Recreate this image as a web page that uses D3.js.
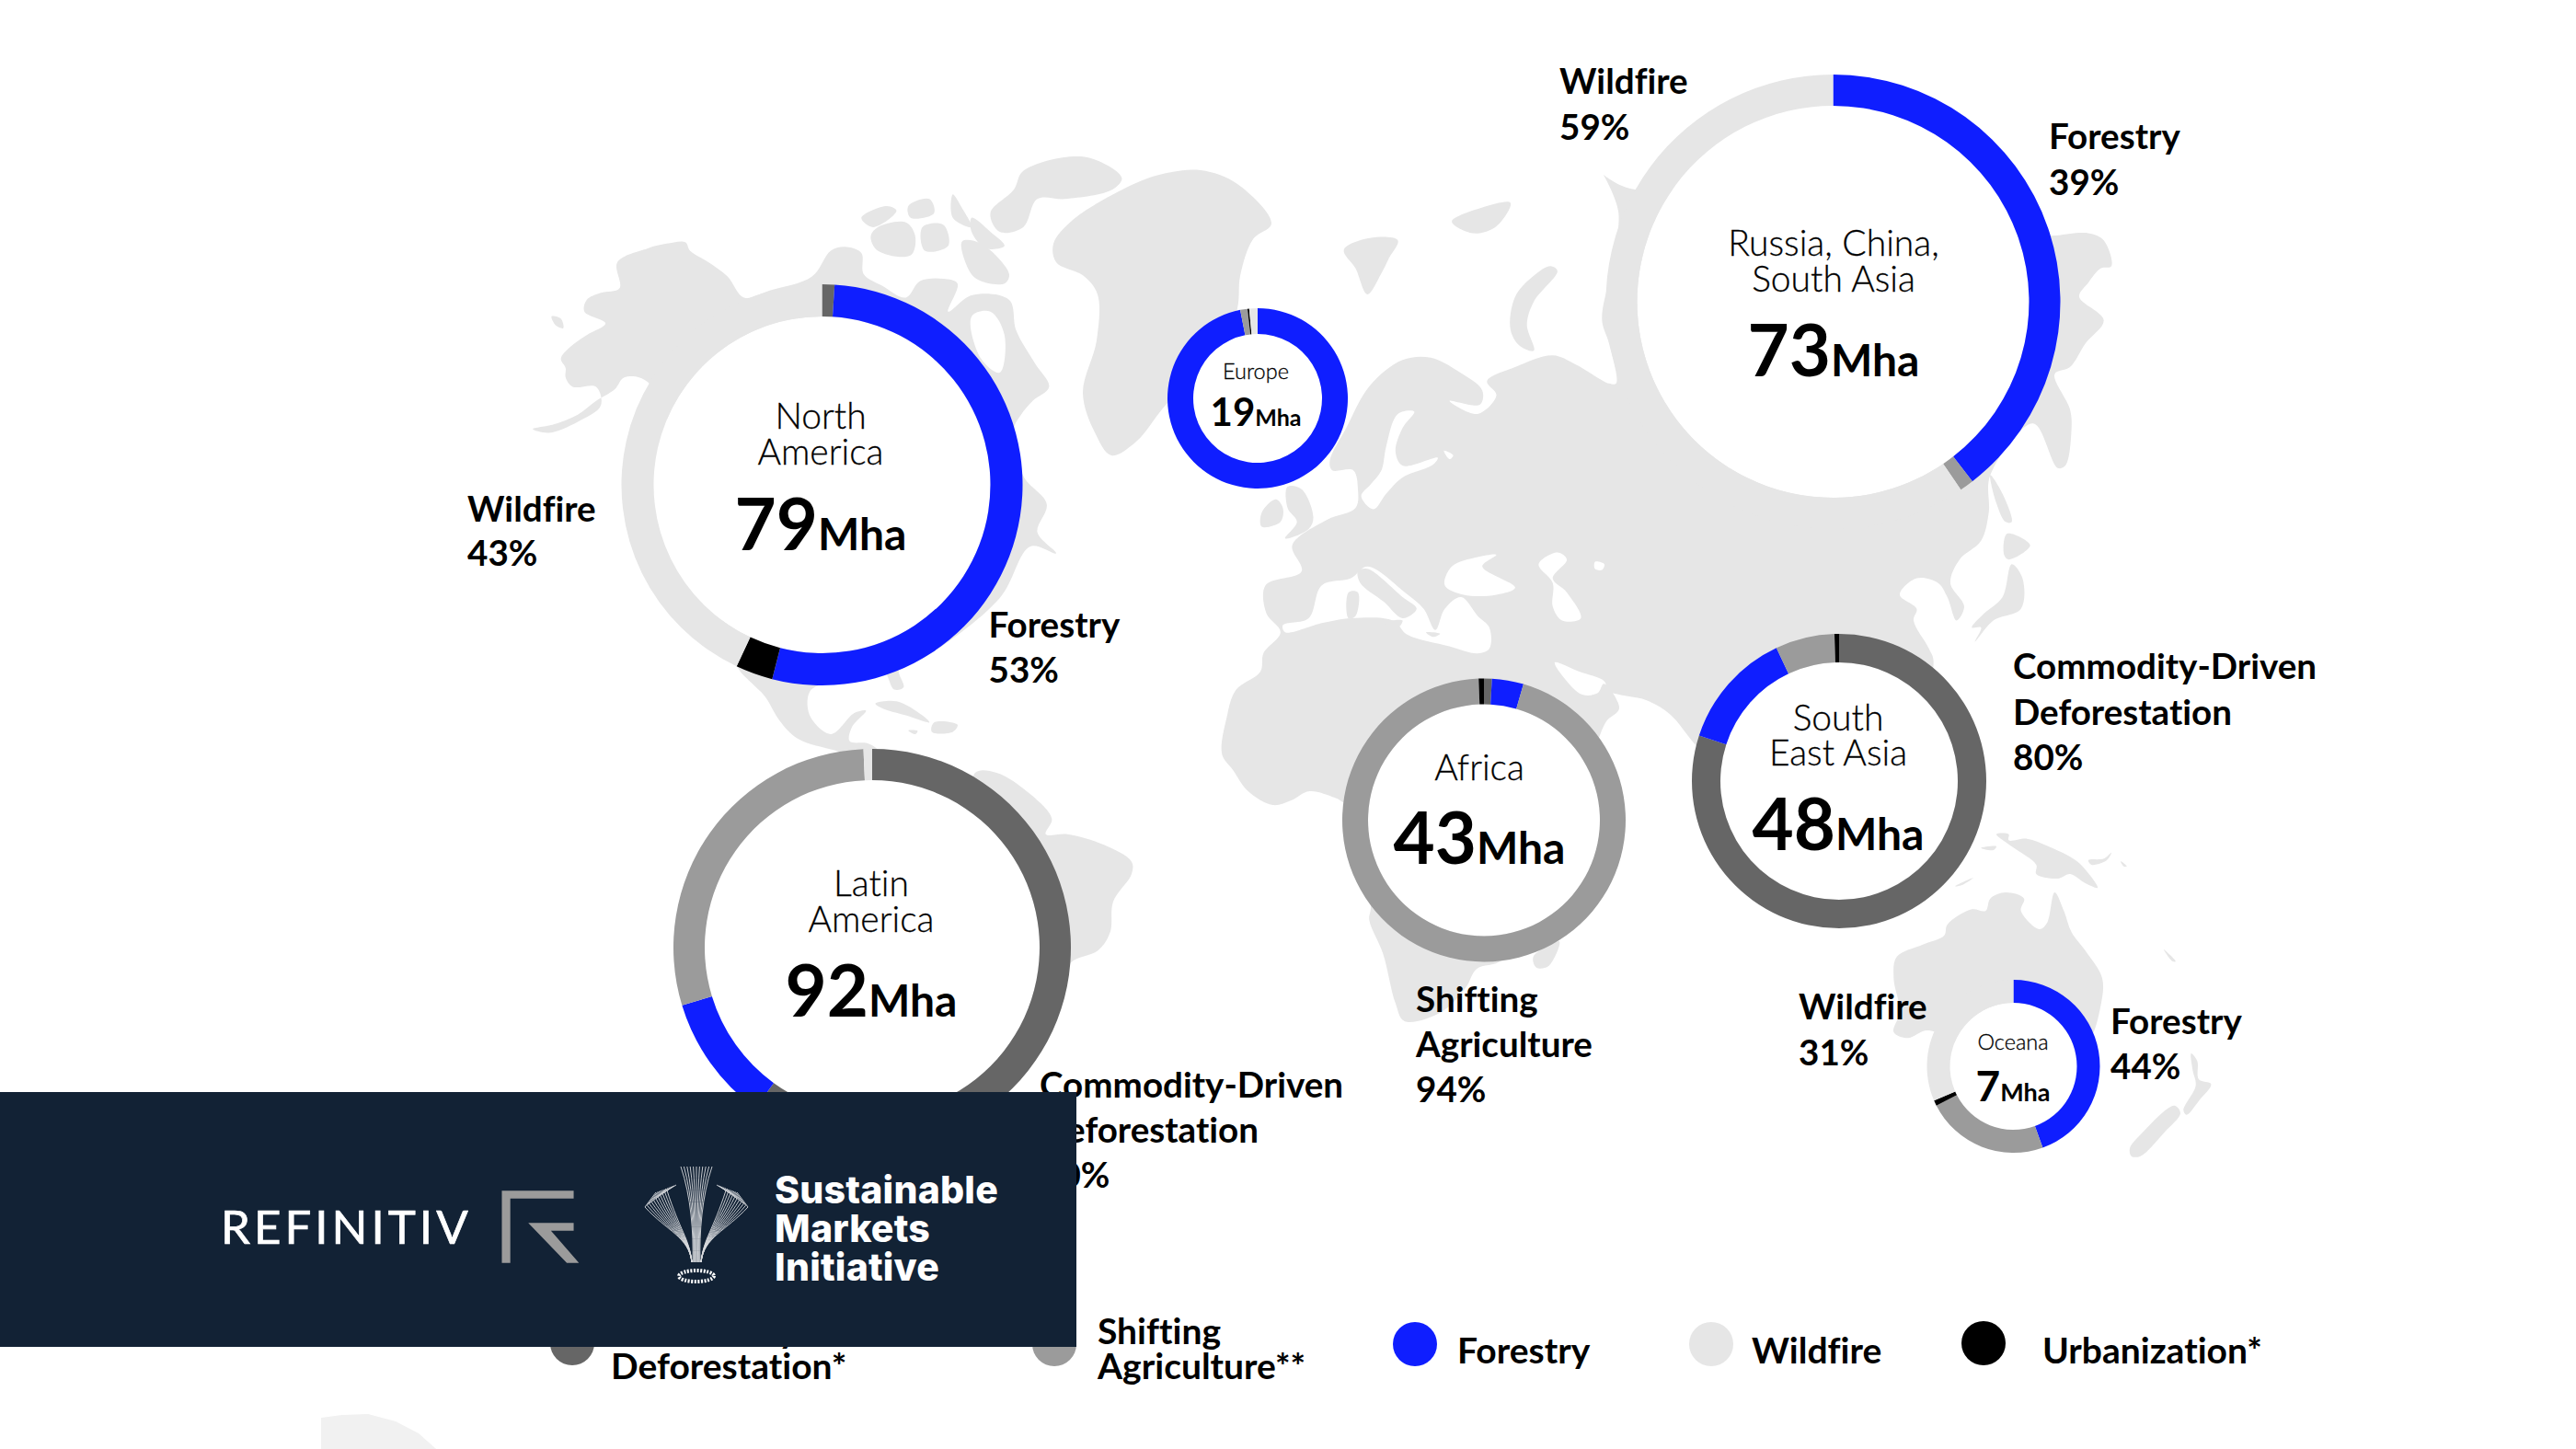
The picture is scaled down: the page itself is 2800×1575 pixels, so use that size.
<!DOCTYPE html>
<html><head><meta charset="utf-8">
<script src="https://cdn.jsdelivr.net/npm/d3@7/dist/d3.min.js"></script>
<style>html,body{margin:0;padding:0;background:#fff}svg{display:block}text{font-family:Lato,sans-serif;font-variant-ligatures:none}</style>
</head><body>
<svg id="c" width="2800" height="1575" viewBox="0 0 2800 1575"></svg>
<script>
// ---- data ----
const causes = ["Commodity-Driven Deforestation","Shifting Agriculture","Forestry","Wildfire","Urbanization"];
const regionNames = [["North","America"],["Europe"],["Russia, China,","South Asia"],["Latin","America"],["Africa"],["South","East Asia"],["Oceana"]];
const regionAreas = [79,19,73,92,43,48,7];
const sliceCauses = [[0,2,4,3],[2,1,4,3],[2,1,3],[0,2,1,3],[0,2,1,4],[0,2,1,4],[2,1,4,3]];
const sliceShares = [[1,53,3,43],[96.9,1.3,0.3,1.5],[39.5,1,59.5],[60,10.3,29,0.7],[0.9,3.6,94.9,0.6],[80,13,6.5,0.5],[44.5,23,1,31.5]];
const calloutLines = [["Wildfire","43%"],["Forestry","53%"],["Wildfire","59%"],["Forestry","39%"],["Commodity-Driven","Deforestation","60%"],["Shifting","Agriculture","94%"],["Commodity-Driven","Deforestation","80%"],["Wildfire","31%"],["Forestry","44%"]];
const legendLines = [["Commodity-Driven","Deforestation*"],["Shifting","Agriculture**"],["Forestry"],["Wildfire"],["Urbanization*"]];
const legendCauses = [0,1,2,3,4];
const brandLines = ["Sustainable","Markets","Initiative"];

// ---- styles and layout ----
const causeColor = d3.scaleOrdinal().domain([0,1,2,3,4]).range(["#666666","#9b9b9b","#0f1eff","#e6e6e6","#000000"]);
const ringLayout = [
 {cx:893.5,cy:527,R:218,r:183,tx:892,ty:[465.5,505],ny:598,fs:39,ns:78,ms:48},
 {cx:1367,cy:433,R:98,r:70,tx:1365,ty:[412],ny:463,fs:23.5,ns:42,ms:25},
 {cx:1992.5,cy:328,R:247,r:213,tx:1993,ty:[277.5,316.5],ny:409,fs:39,ns:78,ms:48},
 {cx:948,cy:1030,R:216,r:182,tx:947,ty:[973.5,1012.5],ny:1105,fs:39,ns:78,ms:48},
 {cx:1613,cy:891.5,R:154,r:126,tx:1608,ty:[847.5],ny:939,fs:39,ns:78,ms:48},
 {cx:1999,cy:849,R:160,r:129,tx:1998,ty:[793.5,832],ny:924,fs:39,ns:78,ms:48},
 {cx:2188.5,cy:1159,R:94,r:69,tx:2188,ty:[1141],ny:1197,fs:23.5,ns:46,ms:27}];
const calloutLayout = [[508,[567,615]],[1074.5,[693,742]],[1695,[102,152]],[2227,[162,212]],[1130,[1193,1242,1291]],[1539,[1100,1149,1198]],[2188,[738,788,837]],[1955,[1108,1158]],[2294,[1124,1173]]];
const legendLayout = [[622,1460,664,[1460,1499]],[1146,1461,1193,[1461,1499]],[1538,1461,1584,[1482]],[1860,1461,1904,[1482]],[2156,1460,2220,[1482]]];

// ---- backdrop outline helpers (each traces one crop of the map) ----
const fr=(ox,oy,sx,sy)=>pts=>pts.map(([x,y])=>[ox+x/sx,oy+y/sy]);
const z5=fr(500,150,1.96,1.96), z6=fr(800,700,3,3), z7=fr(1300,200,1.96,1.96), z8=fr(1950,200,3,1.96), z9=fr(1950,800,3,3), z11=fr(1300,700,3,3);

const land=[
 z5([[225,490],[215,470],[235,445],[270,420],[310,395],[265,370],[270,345],[300,330],[340,320],[335,265],[400,235],[440,225],[480,222],[490,240],[530,265],[570,295],[605,340],[660,325],[750,295],[790,240],[820,232],[855,245],[860,290],[900,315],[950,340],[980,305],[1030,300],[1060,310],[1040,370],[1090,335],[1170,345],[1185,410],[1225,480],[1255,530],[1220,560],[1195,590],[1180,620],[1200,720],[1250,780],[1230,840],[1270,885],[1215,870],[1150,980],[1000,1100],[935,1130],[945,1170],[925,1175],[900,1135],[780,1160],[745,1180],[745,1230],[790,1270],[840,1225],[865,1220],[835,1255],[830,1285],[870,1290],[890,1305],[860,1320],[800,1305],[720,1280],[680,1240],[650,1190],[620,1160],[590,1125],[500,800],[400,520],[350,510],[330,535],[290,560],[250,590],[200,610],[155,620],[190,628],[250,605],[300,570],[290,530],[240,530],[225,510]]),
 z5([[1200,70],[1330,40],[1410,85],[1390,110],[1290,130],[1230,130],[1200,190],[1150,200],[1130,160],[1180,110]]),
 z5([[1090,170],[1130,200],[1160,230],[1120,235],[1090,200]]),
 z5([[855,170],[910,145],[930,155],[880,190]]),
 z5([[890,190],[950,180],[970,210],[960,250],[890,240],[875,210]]),
 z5([[955,145],[1000,130],[1010,160],[960,170]]),
 z5([[1050,120],[1070,150],[1090,190],[1050,170]]),
 z5([[985,190],[1030,185],[1040,230],[990,240]]),
 z5([[1070,220],[1110,225],[1170,290],[1160,310],[1100,300],[1075,260]]),
 z5([[885,1205],[930,1200],[985,1230],[1000,1245],[950,1230],[900,1215]]),
 z5([[1010,1245],[1060,1250],[1050,1265],[1005,1265]]),
 z5([[955,1262],[975,1263],[970,1270]]),
 z5([[195,380],[215,385],[220,405],[205,400]]),
 [[1145,265],[1165,240],[1222,205],[1260,190],[1305,185],[1345,200],[1382,243],[1362,260],[1348,300],[1345,335],[1320,400],[1272,435],[1235,480],[1208,495],[1190,470],[1177,427],[1192,370],[1193,320],[1178,300],[1148,285]],
 z7([[315,140],[370,115],[430,120],[410,160],[395,190],[365,235],[340,180]]),
 z7([[545,80],[610,50],[670,40],[640,90],[590,105]]),
 z7([[755,175],[770,185],[720,250],[705,300],[720,355],[690,345],[670,310],[680,240],[720,195]]),
 [].concat(
  z7([[150,915],[148,855],[225,825],[205,770],[280,715],[340,690],[345,650],[335,610],[290,610],[285,590],[320,520],[370,430],[440,375],[500,370],[560,400],[610,440],[605,470],[540,462],[600,490],[640,450],[620,420],[680,390],[760,365],[810,385],[880,425],[895,425],[880,340],[865,290],[880,200],[900,60],[868,-20]]),
  [[1743,190],[1772,205],[1900,200],[2100,200],[2220,255]],
  z8([[840,110],[960,105],[1010,120],[1035,175],[1000,180],[960,210],[930,240],[1010,290],[950,340],[900,390],[850,405],[900,480],[905,520],[885,600],[860,605],[780,510],[640,620],[635,700],[610,760],[540,800],[510,850],[555,900],[530,930],[500,880],[470,850],[400,840],[345,875],[400,905],[390,930],[440,990],[455,1020],[300,1300]]),
  [[1880,850]],
  z7([[1060,1190],[1010,1130],[960,1100],[880,1080]]),
  z11([[1330,120],[1250,90],[1170,60],[1200,110],[1260,165],[1310,160],[1330,130],[1380,210],[1340,250],[1320,290],[1250,500],[1150,800],[1000,1030],[915,1060],[880,1120],[800,1200],[680,1230],[650,1170],[610,1010],[565,900],[570,860],[560,600],[470,510],[450,500],[370,480],[310,510],[250,525],[170,480],[120,410],[85,360],[100,240],[130,150],[210,90],[220,30]]),
  z7([[180,955]])),
 z6([[780,420],[850,420],[960,490],[1030,570],[1010,620],[1080,620],[1200,655],[1290,710],[1290,750],[1230,840],[1220,940],[1180,1000],[1090,1040],[1000,1200],[800,1000],[780,600]]),
 z11([[1100,1020],[1185,970],[1150,1050],[1110,1055]]),
 z8([[640,620],[680,660],[710,720],[690,720],[660,680]]),
 z8([[695,745],[770,770],[700,800],[685,790]]),
 z8([[710,810],[745,840],[740,905],[650,930],[590,975],[610,945],[580,945],[620,915],[680,880]]),
 z9([[660,320],[700,320],[700,340],[760,335],[830,360],[910,400],[945,430],[990,495],[950,480],[900,450],[860,465],[790,450],[790,420],[710,360]]),
 z9([[960,405],[1010,400],[1035,380],[1020,405],[970,420]]),
 z9([[525,490],[585,462],[550,485]]),
 z9([[610,365],[660,360],[650,372]]),
 z9([[1065,408],[1085,425],[1075,425]]),
 z9([[1205,695],[1245,735],[1235,735]]),
 z9([[335,720],[420,680],[490,650],[500,615],[580,565],[625,570],[640,530],[690,510],[750,530],[740,570],[800,630],[825,610],[850,510],[880,570],[905,640],[950,700],[1005,790],[1000,880],[960,1000],[850,1100],[700,1100],[440,960],[370,985],[325,965],[345,900],[325,790]]),
 z9([[1095,1345],[1130,1300],[1240,1205],[1260,1230],[1210,1290],[1130,1370],[1100,1370]]),
 z9([[1295,1035],[1315,1060],[1320,1120],[1360,1135],[1320,1190],[1280,1235],[1270,1220],[1310,1140],[1300,1090]])
];
const seas=[
 z7([[185,940],[240,925],[268,855],[330,840],[365,815],[445,870],[485,905],[510,950],[530,905],[565,880],[600,920],[625,945],[625,990],[600,1000],[540,985],[450,960],[420,930],[330,925],[270,935],[190,955]]),
 z7([[530,855],[545,815],[600,795],[640,790],[610,815],[680,860],[640,875],[570,875]]),
 z7([[730,810],[770,785],[790,800],[760,840],[790,870],[820,925],[780,930],[760,900],[760,850]]),
 z7([[850,805],[870,810],[865,822],[850,820]]),
 z7([[430,490],[465,485],[440,520],[425,570],[440,600],[515,583],[505,598],[440,625],[405,660],[378,693],[352,665],[372,640],[395,610],[405,560]]),
 z7([[528,568],[548,578],[540,586]]),
 z5([[1090,380],[1130,370],[1160,420],[1150,500],[1110,470]])
];
const landOver=[
 z7([[345,825],[365,820],[440,880],[470,905],[440,925],[400,890],[350,850]]),
 z7([[325,870],[345,870],[340,920],[325,925]]),
 z7([[400,935],[440,930],[430,945]]),
 z7([[490,955],[520,958],[505,965]]),
 z7([[195,645],[225,650],[250,710],[240,735],[190,755],[215,720],[195,690]]),
 z7([[140,700],[170,672],[185,690],[180,720],[140,730]])
];
const southPole=[[349,1541],[372,1538],[400,1537],[430,1545],[455,1558],[474,1575],[349,1575]];

const svg=d3.select("#c");
const outline=d3.line().curve(d3.curveCatmullRomClosed.alpha(0.5));
const mapG=svg.append("g");
mapG.selectAll("path.l").data(land).join("path").attr("class","l").attr("d",outline).attr("fill","#e6e6e6");
mapG.selectAll("path.s").data(seas).join("path").attr("class","s").attr("d",outline).attr("fill","#fff");
mapG.selectAll("path.o").data(landOver).join("path").attr("class","o").attr("d",outline).attr("fill","#e6e6e6");
mapG.append("path").attr("d",d3.line()(southPole)+"Z").attr("fill","#f1f1f1");

// ---- rings ----
const pie=d3.pie().sort(null).value(d=>d.v);
regionNames.forEach((names,i)=>{
  const L=ringLayout[i];
  const g=svg.append("g").attr("transform",`translate(${L.cx},${L.cy})`);
  const rows=sliceShares[i].map((v,j)=>({v,c:sliceCauses[i][j]}));
  const arc=d3.arc().innerRadius(L.r).outerRadius(L.R);
  g.append("circle").attr("r",L.r).attr("fill","#fff");
  g.selectAll("path").data(pie(rows)).join("path").attr("d",arc).attr("fill",d=>causeColor(d.data.c));
  const t=svg.append("g").attr("text-anchor","middle").attr("fill","#000");
  names.forEach((n,k)=>t.append("text").attr("x",L.tx).attr("y",L.ty[k]).attr("font-size",L.fs).attr("font-weight",300).attr("stroke","#000").attr("stroke-width",0.3).text(n));
  const num=t.append("text").attr("x",L.tx).attr("y",L.ny).attr("font-weight",700);
  num.append("tspan").attr("font-size",L.ns).text(regionAreas[i]);
  num.append("tspan").attr("font-size",L.ms).text("Mha");
});

// ---- callouts ----
calloutLines.forEach((lines,i)=>{
  lines.forEach((s,k)=>svg.append("text").attr("x",calloutLayout[i][0]).attr("y",calloutLayout[i][1][k]).attr("font-size",38.6).attr("font-weight",700).attr("fill","#000").text(s));
});

// ---- legend ----
legendLines.forEach((lines,i)=>{
  const L=legendLayout[i];
  svg.append("circle").attr("cx",L[0]).attr("cy",L[1]).attr("r",24).attr("fill",causeColor(legendCauses[i]));
  lines.forEach((s,k)=>svg.append("text").attr("x",L[2]).attr("y",L[3][k]).attr("font-size",39).attr("font-weight",700).attr("fill","#000").text(s));
});

// ---- brand panel ----
const panel=svg.append("g");
panel.append("rect").attr("x",0).attr("y",1187).attr("width",1170).attr("height",277).attr("fill","#122235");
panel.append("text").attr("x",240).attr("y",1352).attr("font-size",51).attr("font-weight",400).attr("letter-spacing",4).attr("fill","#fff").attr("stroke","#fff").attr("stroke-width",0.7).text("REFINITIV");
const zR=fr(220,1250,1.742,3);
panel.append("path").attr("fill","#9b9b9b").attr("d",d3.line()(zR([[567,133],[703,133],[703,158],[583,158],[583,368],[567,368]]))+"Z");
panel.append("path").attr("fill","#9b9b9b").attr("d",d3.line()(zR([[617,238],[703,238],[703,263],[660,263],[713,368],[690,368]]))+"Z");
const plume=panel.append("g").attr("fill","none").attr("stroke","#d8dade").attr("stroke-width",0.9);
const strands=d3.range(0,1.0001,0.1);
strands.forEach(t=>{
  // centre feather
  const k=t*2-1;
  plume.append("path").attr("d",`M${757+k*4} 1372 C${757+k*3} 1340 ${757+k*6} 1300 ${757+k*17} 1268`);
  // side feathers, mirrored about the centre line
  [1,-1].forEach(s=>{
    const X=d=>757+s*d;
    plume.append("path").attr("d",`M${X(5)} 1372 C${X(8)} 1345 ${X(32-14*t)} 1338 ${X(56-24*t)} ${1312-18*t} L${X(44-22*t)} ${1296-8*t}`);
  });
});
panel.append("ellipse").attr("cx",757).attr("cy",1387).attr("rx",19).attr("ry",6).attr("fill","none").attr("stroke","#fff").attr("stroke-width",4).attr("stroke-dasharray","2 1.5");
brandLines.forEach((s,i)=>panel.append("text").attr("x",842).attr("y",[1308,1350,1392][i]).style("font-family","Inter,Lato,sans-serif").attr("font-size",41).attr("font-weight",800).attr("letter-spacing",0.2).attr("fill","#fff").text(s));
</script>
</body></html>
